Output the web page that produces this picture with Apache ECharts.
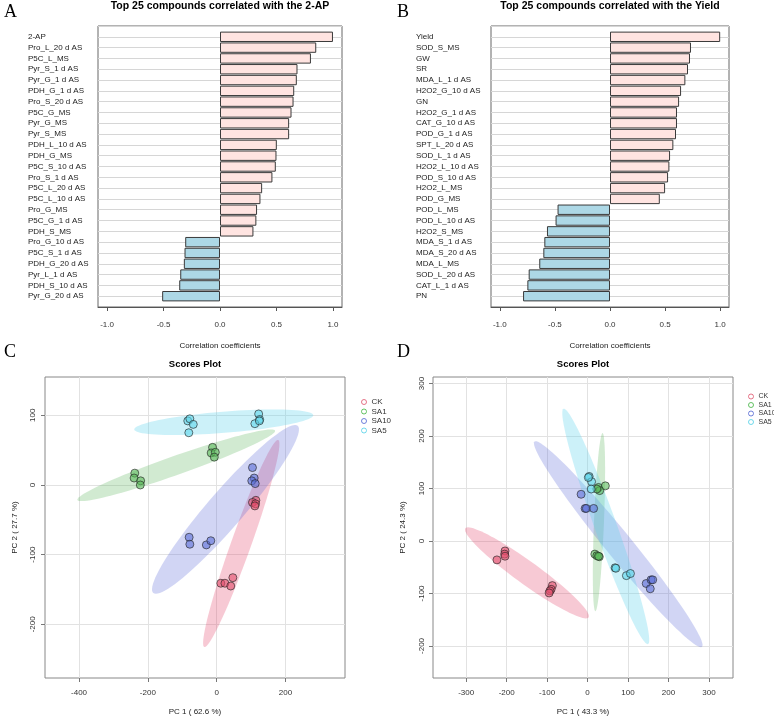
<!DOCTYPE html>
<html>
<head>
<meta charset="utf-8">
<script src="https://cdn.jsdelivr.net/npm/echarts@6/dist/echarts.min.js"></script>
<style>
html, body { margin: 0; padding: 0; background: #fff; }
#main { width: 774px; height: 718px; }
</style>
</head>
<body>
<div id="main"></div>
<script>
// A: top 25 compounds correlated with 2-AP
const apNames = ['2-AP', 'Pro_L_20 d AS', 'P5C_L_MS', 'Pyr_S_1 d AS', 'Pyr_G_1 d AS', 'PDH_G_1 d AS',
    'Pro_S_20 d AS', 'P5C_G_MS', 'Pyr_G_MS', 'Pyr_S_MS', 'PDH_L_10 d AS', 'PDH_G_MS', 'P5C_S_10 d AS',
    'Pro_S_1 d AS', 'P5C_L_20 d AS', 'P5C_L_10 d AS', 'Pro_G_MS', 'P5C_G_1 d AS', 'PDH_S_MS',
    'Pro_G_10 d AS', 'P5C_S_1 d AS', 'PDH_G_20 d AS', 'Pyr_L_1 d AS', 'PDH_S_10 d AS', 'Pyr_G_20 d AS'];
const apValues = [1.0, 0.852, 0.805, 0.686, 0.680, 0.657, 0.651, 0.633, 0.612, 0.612, 0.503, 0.500, 0.494,
    0.464, 0.373, 0.358, 0.328, 0.322, 0.296, -0.308, -0.314, -0.320, -0.352, -0.361, -0.512];

// B: top 25 compounds correlated with Yield
const yieldNames = ['Yield', 'SOD_S_MS', 'GW', 'SR', 'MDA_L_1 d AS', 'H2O2_G_10 d AS', 'GN', 'H2O2_G_1 d AS',
    'CAT_G_10 d AS', 'POD_G_1 d AS', 'SPT_L_20 d AS', 'SOD_L_1 d AS', 'H2O2_L_10 d AS', 'POD_S_10 d AS',
    'H2O2_L_MS', 'POD_G_MS', 'POD_L_MS', 'POD_L_10 d AS', 'H2O2_S_MS', 'MDA_S_1 d AS', 'MDA_S_20 d AS',
    'MDA_L_MS', 'SOD_L_20 d AS', 'CAT_L_1 d AS', 'PN'];
const yieldValues = [1.0, 0.735, 0.726, 0.708, 0.684, 0.645, 0.627, 0.608, 0.608, 0.599, 0.575, 0.545, 0.539,
    0.527, 0.500, 0.452, -0.476, -0.494, -0.572, -0.596, -0.605, -0.642, -0.738, -0.750, -0.789];

const corrTicks = [-1, -0.5, 0, 0.5, 1];

// C and D: PCA scores
const groups = ['CK', 'SA1', 'SA10', 'SA5'];

const cCK = [[114, -22], [104, -25], [113, -27], [111, -30], [12, -141], [24, -141], [47, -133], [41, -145]];
const cSA1 = [[-238, 17], [-240, 10], [-221, 6], [-222, 0], [-12, 54], [-16, 46], [-4, 47], [-7, 40]];
const cSA10 = [[104, 25], [109, 10], [102, 6], [112, 2], [-80, -75], [-78, -85], [-30, -86], [-17, -80]];
const cSA5 = [[-84, 92], [-78, 95], [-68, 87], [-81, 75], [122, 102], [125, 94], [111, 88], [124, 92]];

const dCK = [[-204, -19], [-205, -25], [-204, -29], [-224, -36], [-87, -85], [-90, -92], [-93, -95], [-95, -99]];
const dSA1 = [[27, 102], [44, 105], [30, 96], [23, 99], [18, -25], [23, -28], [29, -30], [27, -29]];
const dSA10 = [[-16, 89], [-6, 62], [-3, 62], [15, 62], [145, -81], [157, -74], [161, -74], [155, -91]];
const dSA5 = [[4, 123], [10, 113], [9, 99], [2, 121], [68, -51], [70, -52], [96, -66], [106, -62]];

// ellipses: [centerX, centerY, majorEndX, majorEndY, minorEndX, minorEndY]
const cEllCK = [71.5, -83.9, 179, 64.7, 98.8, -88.8];
const cEllSA1 = [-117.7, 28.3, 169.5, 78.1, -108.7, 15.4];
const cEllSA10 = [25.6, -35, 235.5, 84.9, 65.1, -51.9];
const cEllSA5 = [20.6, 90, 280.8, 100.3, 23, 74.8];

const dEllCK = [-149.8, -60.7, 2.5, -145.6, -166.4, -78.4];
const dEllSA1 = [28.2, 35.9, 37.1, 205.5, 40.5, 35.5];
const dEllSA10 = [75.9, -6.1, 282.8, -201.7, 50.9, -21.8];
const dEllSA5 = [45, 27.7, -59.3, 251.9, 19.3, 20.6];

const cTicksX = [-400, -200, 0, 200];
const cTicksY = [-200, -100, 0, 100];
const dTicksX = [-300, -200, -100, 0, 100, 200, 300];
const dTicksY = [-200, -100, 0, 100, 200, 300];

var lineColors = ['#DF536B', '#3FB33F', '#4F63D2', '#4FCFE6'];
var fillColors = ['rgba(226,78,108,0.75)', 'rgba(90,185,90,0.75)', 'rgba(90,110,215,0.75)', 'rgba(95,215,235,0.75)'];
var ellColors = ['rgba(226,60,100,0.28)', 'rgba(90,180,90,0.28)', 'rgba(90,105,215,0.28)', 'rgba(95,210,235,0.32)'];

var chart = echarts.init(document.getElementById('main'));

function barAxes(idx, margin) {
    return {
        x: {
            gridIndex: idx, type: 'value', min: -1.08, max: 1.08,
            axisLine: {show: true, onZero: false, lineStyle: {color: '#555'}},
            axisTick: {show: true, length: 4, customValues: corrTicks, lineStyle: {color: '#555'}},
            axisLabel: {customValues: corrTicks, formatter: function (v) { return v.toFixed(1); },
                margin: 14, fontSize: 8, color: '#333'},
            splitLine: {show: false},
            name: 'Correlation coefficients', nameLocation: 'middle', nameGap: 35,
            nameTextStyle: {fontSize: 8, color: '#222'}
        },
        y: {
            gridIndex: idx, type: 'category', inverse: true, boundaryGap: false,
            axisLine: {show: false}, axisTick: {show: false},
            axisLabel: {interval: 0, align: 'left', margin: margin, fontSize: 8, color: '#222'},
            splitLine: {show: true, lineStyle: {color: '#d6d6d6', width: 1.2}}
        }
    };
}

function barSeries(idx, values) {
    var data = ['-'];
    values.forEach(function (v) {
        data.push({value: v, itemStyle: {color: v >= 0 ? '#FFE4E1' : '#ADD8E6'}});
    });
    data.push('-');
    return {
        type: 'bar', xAxisIndex: idx, yAxisIndex: idx, data: data,
        barCategoryGap: '4%',
        itemStyle: {borderColor: '#3a3a3a', borderWidth: 1}
    };
}

function scoreAxes(idx, xr, yr, xt, yt, xName, yName, yMargin) {
    return {
        x: {
            gridIndex: idx, type: 'value', min: xr[0], max: xr[1],
            axisLine: {show: false, onZero: false},
            axisTick: {show: true, length: 4, customValues: xt, lineStyle: {color: '#777'}},
            axisLabel: {customValues: xt, margin: 11, fontSize: 8, color: '#333'},
            splitLine: {show: true, lineStyle: {color: '#e2e2e2', width: 1}},
            name: xName, nameLocation: 'middle', nameGap: 30,
            nameTextStyle: {fontSize: 8, color: '#222'}
        },
        y: {
            gridIndex: idx, type: 'value', min: yr[0], max: yr[1],
            axisLine: {show: false, onZero: false},
            axisTick: {show: true, length: 4, customValues: yt, lineStyle: {color: '#777'}},
            axisLabel: {customValues: yt, rotate: 90, margin: yMargin, fontSize: 8, color: '#333'},
            splitLine: {show: true, lineStyle: {color: '#e2e2e2', width: 1}},
            name: yName, nameLocation: 'middle', nameRotate: 90, nameGap: 26,
            nameTextStyle: {fontSize: 8, color: '#222'}
        }
    };
}

function ellipseSeries(idx, ell, color) {
    return {
        type: 'custom', xAxisIndex: idx, yAxisIndex: idx, z: 1, silent: true,
        data: [ell],
        renderItem: function (params, api) {
            var c = api.coord([api.value(0), api.value(1)]);
            var m = api.coord([api.value(2), api.value(3)]);
            var n = api.coord([api.value(4), api.value(5)]);
            var pts = [];
            for (var i = 0; i < 90; i++) {
                var t = i / 90 * Math.PI * 2;
                pts.push([c[0] + Math.cos(t) * (m[0] - c[0]) + Math.sin(t) * (n[0] - c[0]),
                    c[1] + Math.cos(t) * (m[1] - c[1]) + Math.sin(t) * (n[1] - c[1])]);
            }
            return {type: 'polygon', shape: {points: pts}, style: {fill: color}};
        }
    };
}

function pointSeries(idx, name, pts, i) {
    return {
        type: 'scatter', name: name, xAxisIndex: idx, yAxisIndex: idx, z: 3,
        data: pts, symbolSize: 8,
        itemStyle: {color: fillColors[i], borderColor: '#222', borderWidth: 0.8}
    };
}

function legendFor(left, top, size) {
    return {
        orient: 'vertical', left: left, top: top, itemWidth: 5, itemHeight: 5, itemGap: 1.5,
        selectedMode: false, textStyle: {fontSize: size, color: '#333'},
        data: groups.map(function (g, i) {
            return {name: g, icon: 'circle', itemStyle: {color: '#fff', borderColor: lineColors[i], borderWidth: 1}};
        })
    };
}

var aAx = barAxes(0, 70);
var bAx = barAxes(1, 75);
aAx.y.data = [''].concat(apNames, ['']);
bAx.y.data = [''].concat(yieldNames, ['']);
var cAx = scoreAxes(2, [-499, 373], [-277, 155], cTicksX, cTicksY, 'PC 1 ( 62.6 %)', 'PC 2 ( 27.7 %)', 8);
var dAx = scoreAxes(3, [-382, 359.5], [-261, 312.4], dTicksX, dTicksY, 'PC 1 ( 43.3 %)', 'PC 2 ( 24.3 %)', 7);

var cEll = [cEllCK, cEllSA1, cEllSA10, cEllSA5];
var dEll = [dEllCK, dEllSA1, dEllSA10, dEllSA5];
var cPts = [cCK, cSA1, cSA10, cSA5];
var dPts = [dCK, dSA1, dSA10, dSA5];

var series = [barSeries(0, apValues), barSeries(1, yieldValues)];
groups.forEach(function (g, i) {
    series.push(ellipseSeries(2, cEll[i], ellColors[i]));
    series.push(ellipseSeries(3, dEll[i], ellColors[i]));
});
groups.forEach(function (g, i) {
    series.push(pointSeries(2, g, cPts[i], i));
    series.push(pointSeries(3, g, dPts[i], i));
});

var letterStyle = {fontFamily: 'Liberation Serif', fontSize: 18, fontWeight: 'normal', color: '#000'};
var titleStyle = {fontSize: 10.5, fontWeight: 'bold', color: '#000'};
var scoreTitleStyle = {fontSize: 9.5, fontWeight: 'bold', color: '#000'};

var option = {
    animation: false,
    backgroundColor: '#fff',
    textStyle: {fontFamily: 'Liberation Sans'},
    title: [
        {text: 'A', left: 4, top: 3, textStyle: letterStyle, padding: 0},
        {text: 'B', left: 397, top: 3, textStyle: letterStyle, padding: 0},
        {text: 'C', left: 4, top: 343, textStyle: letterStyle, padding: 0},
        {text: 'D', left: 397, top: 343, textStyle: letterStyle, padding: 0},
        {text: 'Top 25 compounds correlated with the 2-AP', left: 220, top: 1, textAlign: 'center', padding: 0, textStyle: titleStyle},
        {text: 'Top 25 compounds correlated with the Yield', left: 610, top: 1, textAlign: 'center', padding: 0, textStyle: titleStyle},
        {text: 'Scores Plot', left: 195, top: 359, textAlign: 'center', padding: 0, textStyle: scoreTitleStyle},
        {text: 'Scores Plot', left: 583, top: 359, textAlign: 'center', padding: 0, textStyle: scoreTitleStyle}
    ],
    legend: [legendFor(356, 393, 8), legendFor(743, 388, 7)],
    grid: [
        {left: 98, top: 26, width: 244, height: 281, show: true, borderColor: '#666', borderWidth: 1},
        {left: 491, top: 26, width: 238, height: 281, show: true, borderColor: '#666', borderWidth: 1},
        {left: 45, top: 377, width: 300, height: 301, show: true, borderColor: '#888', borderWidth: 1},
        {left: 433, top: 377, width: 300, height: 301, show: true, borderColor: '#888', borderWidth: 1}
    ],
    xAxis: [aAx.x, bAx.x, cAx.x, dAx.x],
    yAxis: [aAx.y, bAx.y, cAx.y, dAx.y],
    series: series
};

chart.setOption(option);
</script>
</body>
</html>
